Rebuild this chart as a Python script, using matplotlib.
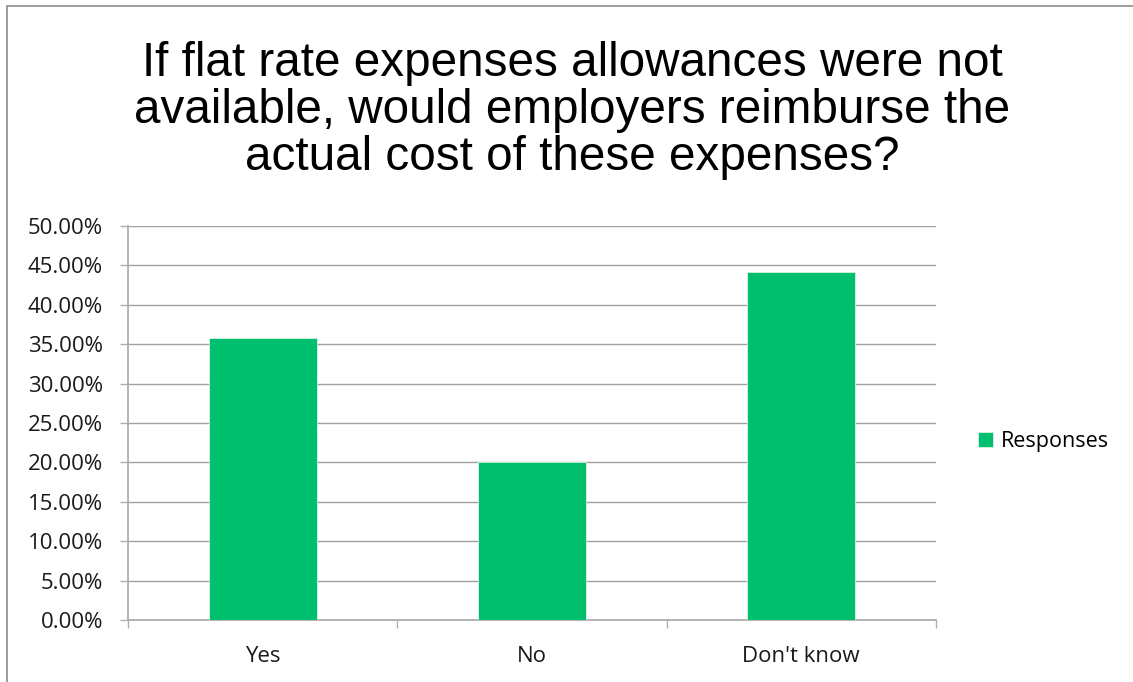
import matplotlib.pyplot as plt
from matplotlib.patches import Rectangle
from matplotlib.ticker import FuncFormatter

categories = ["Yes", "No", "Don't know"]
responses = [0.358, 0.200, 0.442]
series_name = "Responses"
title = ("If flat rate expenses allowances were not\n"
         "available, would employers reimburse the\n"
         "actual cost of these expenses?")

green = "#00BF6F"
grid_grey = "#A0A0A0"
axis_grey = "#AEAEAE"

fig = plt.figure(figsize=(11.33, 6.82), dpi=100)
ax = fig.add_axes([0.113, 0.0909, 0.713, 0.5777])

x = list(range(len(categories)))
ax.bar(x, responses, width=0.4, color=green, edgecolor="#D8F2E6",
       linewidth=0.6, label=series_name, zorder=3)

ax.set_xlim(-0.5, len(categories) - 0.5)
ax.set_ylim(0, 0.5)
ax.set_yticks([i * 0.05 for i in range(11)])
ax.yaxis.set_major_formatter(FuncFormatter(lambda v, p: "%.2f%%" % (v * 100)))
ax.set_xticks(x)
ax.set_xticklabels(categories)
ax.set_xticks([i - 0.5 for i in range(len(categories) + 1)], minor=True)

ax.grid(axis="y", color=grid_grey, linewidth=1.0, zorder=0)
for s in ["top", "right"]:
    ax.spines[s].set_visible(False)
for s in ["left", "bottom"]:
    ax.spines[s].set_color(axis_grey)
    ax.spines[s].set_linewidth(1.3)

tick_font = "Open Sans"
ax.tick_params(axis="y", length=6, width=1.0, color=axis_grey, pad=12,
               labelsize=16, labelcolor="#1a1a1a")
ax.tick_params(axis="x", which="major", length=0, pad=19,
               labelsize=16, labelcolor="#1a1a1a")
ax.tick_params(axis="x", which="minor", length=6, width=1.0, color=axis_grey)
for lab in ax.get_xticklabels() + ax.get_yticklabels():
    lab.set_fontfamily(tick_font)

leg = fig.legend(loc="center left", bbox_to_anchor=(0.846, 0.352), frameon=False,
                 handlelength=0.7, handleheight=0.7, handletextpad=0.35,
                 prop={"family": tick_font, "size": 15.5})

fig.text(0.505, 0.838, title, ha="center", va="center", fontsize=34.3,
         family="Liberation Sans", linespacing=1.07)

# chart area border (left and top edges)
fig.patches.append(Rectangle((7 / 1133, -0.1), 1.2, 1.1 - 6 / 682,
                             transform=fig.transFigure, fill=False,
                             edgecolor="#8C8C8C", linewidth=1.2))

fig.savefig("out.png", dpi=100)
